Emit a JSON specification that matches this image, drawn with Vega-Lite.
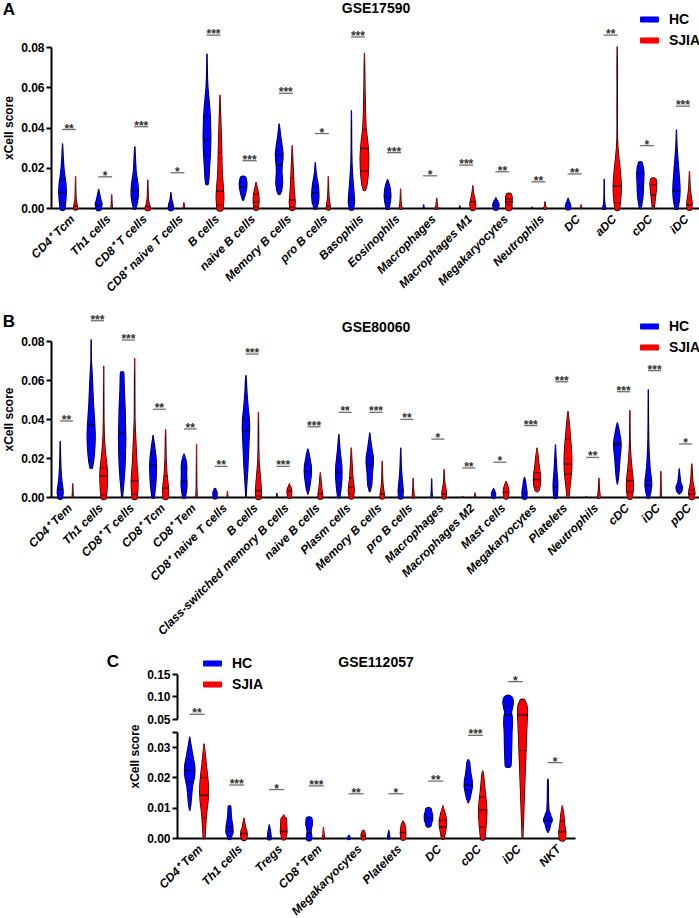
{
"$schema":"https://vega.github.io/schema/vega-lite/v6.json",
"padding":{"left":2,"top":1,"right":2,"bottom":2},
"config":{
"font":"Liberation Sans",
"view":{"stroke":null},
"axis":{"labelFont":"Liberation Sans","labelFontWeight":"bold","labelFontSize":12,"labelColor":"black","titleFont":"Liberation Sans","titleFontWeight":"bold","titleFontSize":12,"titleColor":"black","domainColor":"black","domainWidth":2,"tickColor":"black","tickWidth":2,"tickSize":5,"grid":false,"labelPadding":2,"titlePadding":5},
"axisX":{"ticks":false,"labelAngle":-45,"labelFontStyle":"italic","labelPadding":5},
"title":{"font":"Liberation Sans","fontSize":14,"fontWeight":"bold","color":"black"},
"legend":{"orient":"none","symbolType":"M-1,-0.28H1V0.28H-1Z","symbolSize":324,"symbolStrokeColor":"black","symbolStrokeWidth":1,"symbolOpacity":1,"labelFont":"Liberation Sans","labelFontSize":14,"labelFontWeight":"bold","labelColor":"black","rowPadding":4,"labelOffset":10,"padding":0}
},
"datasets":{
"A":[
{"c":"CD4⁺ Tcm","g":"HC","y":[0,0.003,0.008,0.012,0.016,0.02,0.025,0.03,0.0318],"d":[0.55,0.7,0.85,0.75,0.5,0.3,0.15,0.05,0],"m":0.0076,"md":0.85,"q":[0.0026,0.0144],"qd":[0.68,0.6]},
{"c":"CD4⁺ Tcm","g":"SJIA","y":[0,0.002,0.004,0.008,0.0155],"d":[0.45,0.3,0.12,0.05,0],"m":0.001,"md":0.38},
{"c":"Th1 cells","g":"HC","y":[0,0.002,0.004,0.006,0.008,0.0093],"d":[0.6,0.75,0.5,0.3,0.12,0],"m":0.0015,"md":0.72},
{"c":"Th1 cells","g":"SJIA","y":[0,0.003,0.0065],"d":[0.15,0.05,0]},
{"c":"CD8⁺ T cells","g":"HC","y":[0,0.003,0.006,0.009,0.012,0.015,0.018,0.022,0.027,0.0304],"d":[0.3,0.6,0.8,0.8,0.7,0.5,0.3,0.2,0.1,0],"m":0.0088,"md":0.8,"q":[0.0045,0.0135],"qd":[0.7,0.6]},
{"c":"CD8⁺ T cells","g":"SJIA","y":[0,0.002,0.005,0.01,0.0138],"d":[0.6,0.3,0.1,0.04,0],"m":0.0008,"md":0.5},
{"c":"CD8⁺ naive T cells","g":"HC","y":[0,0.002,0.004,0.006,0.0076],"d":[0.6,0.45,0.2,0.08,0],"m":0.0008,"md":0.55},
{"c":"CD8⁺ naive T cells","g":"SJIA","y":[0,0.0025],"d":[0.15,0]},
{"c":"B cells","g":"HC","y":[0.0122,0.015,0.02,0.025,0.03,0.035,0.04,0.045,0.05,0.055,0.06,0.065,0.07,0.0764],"d":[0.3,0.45,0.55,0.7,0.8,0.85,0.8,0.75,0.6,0.4,0.2,0.1,0.06,0],"m":0.034,"md":0.85,"q":[0.0258,0.0457],"qd":[0.72,0.72]},
{"c":"B cells","g":"SJIA","y":[0,0.005,0.01,0.015,0.02,0.025,0.03,0.035,0.04,0.045,0.05,0.056],"d":[0.7,0.85,0.75,0.55,0.45,0.4,0.35,0.3,0.22,0.15,0.08,0],"m":0.0084,"md":0.78,"q":[0.0015,0.0275],"qd":[0.72,0.38]},
{"c":"naive B cells","g":"HC","y":[0.004,0.006,0.008,0.01,0.0125,0.0142,0.0148],"d":[0.1,0.4,0.6,0.8,0.85,0.7,0],"m":0.0103,"md":0.8},
{"c":"naive B cells","g":"SJIA","y":[0,0.002,0.004,0.007,0.009,0.011,0.0127],"d":[0.5,0.6,0.65,0.55,0.35,0.15,0],"m":0.003,"md":0.62,"q":[0.0005,0.007],"qd":[0.52,0.55]},
{"c":"Memory B cells","g":"HC","y":[0.0073,0.009,0.012,0.015,0.018,0.021,0.024,0.027,0.03,0.033,0.036,0.039,0.0417],"d":[0.3,0.55,0.75,0.7,0.6,0.65,0.8,0.85,0.7,0.5,0.3,0.15,0],"m":0.0213,"md":0.65,"q":[0.0109,0.0263],"qd":[0.7,0.85]},
{"c":"Memory B cells","g":"SJIA","y":[0,0.003,0.006,0.01,0.015,0.02,0.025,0.0308],"d":[0.55,0.65,0.55,0.4,0.3,0.2,0.1,0],"m":0.004,"md":0.6,"q":[0.0005,0.0149],"qd":[0.56,0.3]},
{"c":"pro B cells","g":"HC","y":[0,0.003,0.006,0.009,0.012,0.015,0.018,0.0225],"d":[0.3,0.7,0.8,0.75,0.6,0.35,0.15,0],"m":0.0074,"md":0.78,"q":[0.003,0.0104],"qd":[0.7,0.68]},
{"c":"pro B cells","g":"SJIA","y":[0,0.002,0.005,0.01,0.0155],"d":[0.45,0.35,0.15,0.05,0],"m":0.0008,"md":0.42},
{"c":"Basophils","g":"HC","y":[0,0.003,0.007,0.012,0.017,0.022,0.03,0.04,0.0483],"d":[0.5,0.7,0.6,0.4,0.25,0.12,0.05,0.03,0],"m":0.0043,"md":0.68},
{"c":"Basophils","g":"SJIA","y":[0.0093,0.012,0.016,0.02,0.025,0.03,0.035,0.04,0.045,0.05,0.055,0.06,0.07,0.0768],"d":[0.3,0.6,0.8,0.9,0.95,0.85,0.6,0.35,0.25,0.2,0.15,0.1,0.05,0],"m":0.0296,"md":0.86,"q":[0.0184,0.039],"qd":[0.86,0.35]},
{"c":"Eosinophils","g":"HC","y":[0,0.003,0.006,0.009,0.011,0.013,0.0142],"d":[0.35,0.6,0.75,0.65,0.45,0.2,0],"m":0.0056,"md":0.74,"q":[0.0025,0.0085],"qd":[0.57,0.67]},
{"c":"Eosinophils","g":"SJIA","y":[0,0.002,0.005,0.0094],"d":[0.3,0.15,0.05,0]},
{"c":"Macrophages","g":"HC","y":[0,0.0015],"d":[0.1,0]},
{"c":"Macrophages","g":"SJIA","y":[0,0.001,0.0048],"d":[0.3,0.15,0]},
{"c":"Macrophages M1","g":"HC","y":[0,0.001],"d":[0.1,0]},
{"c":"Macrophages M1","g":"SJIA","y":[0,0.002,0.004,0.006,0.008,0.011],"d":[0.55,0.65,0.5,0.3,0.12,0],"m":0.003,"md":0.58},
{"c":"Megakaryocytes","g":"HC","y":[0,0.0015,0.003,0.0051],"d":[0.5,0.7,0.45,0],"m":0.0012,"md":0.68},
{"c":"Megakaryocytes","g":"SJIA","y":[0,0.001,0.002,0.003,0.004,0.005,0.006,0.0064],"d":[0.6,0.7,0.6,0.75,0.65,0.75,0.6,0],"m":0.003,"md":0.75,"q":[0.0015,0.0045],"qd":[0.65,0.7]},
{"c":"Neutrophils","g":"HC","y":[0,0.0004],"d":[0.08,0]},
{"c":"Neutrophils","g":"SJIA","y":[0,0.001,0.003],"d":[0.3,0.1,0]},
{"c":"DC","g":"HC","y":[0,0.001,0.002,0.0035,0.0048],"d":[0.45,0.6,0.45,0.2,0]},
{"c":"DC","g":"SJIA","y":[0,0.0015],"d":[0.15,0]},
{"c":"aDC","g":"HC","y":[0,0.002,0.005,0.0142],"d":[0.35,0.15,0.05,0]},
{"c":"aDC","g":"SJIA","y":[0,0.003,0.007,0.011,0.015,0.02,0.025,0.03,0.035,0.04,0.05,0.06,0.068,0.075,0.08],"d":[0.55,0.7,0.85,0.9,0.8,0.6,0.35,0.15,0.05,0.03,0.04,0.02,0.05,0.02,0],"m":0.011,"md":0.9,"q":[0.0026],"qd":[0.68]},
{"c":"cDC","g":"HC","y":[0,0.002,0.005,0.008,0.011,0.014,0.017,0.02,0.022,0.023],"d":[0.2,0.35,0.55,0.65,0.7,0.75,0.8,0.7,0.45,0],"m":0.0109,"md":0.7,"q":[0.004,0.0172],"qd":[0.48,0.8]},
{"c":"cDC","g":"SJIA","y":[0,0.003,0.006,0.009,0.012,0.0135,0.0142],"d":[0.2,0.35,0.5,0.65,0.75,0.65,0],"m":0.0064,"md":0.52,"q":[0.001,0.0114],"qd":[0.25,0.72]},
{"c":"iDC","g":"HC","y":[0,0.003,0.006,0.009,0.012,0.015,0.018,0.021,0.025,0.03,0.035,0.0387],"d":[0.35,0.6,0.75,0.8,0.75,0.65,0.55,0.45,0.3,0.15,0.05,0],"m":0.0084,"md":0.8,"q":[0.0026,0.0189],"qd":[0.58,0.52]},
{"c":"iDC","g":"SJIA","y":[0,0.002,0.004,0.007,0.01,0.014,0.018],"d":[0.5,0.6,0.5,0.3,0.15,0.07,0],"m":0.0015,"md":0.58}
],
"As":[
{"c":"CD4⁺ Tcm","s":"**","sy":0.039},{"c":"Th1 cells","s":"*","sy":0.0155},{"c":"CD8⁺ T cells","s":"***","sy":0.0404},{"c":"CD8⁺ naive T cells","s":"*","sy":0.0175},{"c":"B cells","s":"***","sy":0.0859},{"c":"naive B cells","s":"***","sy":0.0235},{"c":"Memory B cells","s":"***","sy":0.057},{"c":"pro B cells","s":"*","sy":0.037},{"c":"Basophils","s":"***","sy":0.085},{"c":"Eosinophils","s":"***","sy":0.0275},{"c":"Macrophages","s":"*","sy":0.016},{"c":"Macrophages M1","s":"***","sy":0.0213},{"c":"Megakaryocytes","s":"**","sy":0.018},{"c":"Neutrophils","s":"**","sy":0.013},{"c":"DC","s":"**","sy":0.0169},{"c":"aDC","s":"**","sy":0.0859},{"c":"cDC","s":"*","sy":0.031},{"c":"iDC","s":"***","sy":0.0506}
],
"B":[
{"c":"CD4⁺ Tem","g":"HC","y":[0,0.002,0.004,0.007,0.01,0.015,0.02,0.025,0.0284],"d":[0.55,0.7,0.65,0.45,0.3,0.15,0.08,0.04,0],"m":0.004,"md":0.65},
{"c":"CD4⁺ Tem","g":"SJIA","y":[0,0.002,0.0067],"d":[0.15,0.06,0]},
{"c":"Th1 cells","g":"HC","y":[0.0152,0.018,0.022,0.027,0.032,0.037,0.042,0.047,0.052,0.057,0.062,0.066,0.07,0.0805],"d":[0.3,0.55,0.75,0.9,0.95,0.85,0.7,0.55,0.45,0.35,0.25,0.15,0.05,0],"m":0.0369,"md":0.85,"q":[0.0191,0.0499],"qd":[0.62,0.5]},
{"c":"Th1 cells","g":"SJIA","y":[0,0.003,0.007,0.011,0.015,0.019,0.023,0.027,0.032,0.04,0.05,0.067],"d":[0.6,0.75,0.85,0.9,0.8,0.6,0.4,0.25,0.12,0.05,0.03,0],"m":0.0107,"md":0.9,"q":[0.001,0.015],"qd":[0.62,0.8]},
{"c":"CD8⁺ T cells","g":"HC","y":[0,0.005,0.01,0.015,0.02,0.025,0.03,0.035,0.04,0.045,0.05,0.055,0.06,0.0634,0.0636],"d":[0.1,0.3,0.5,0.65,0.75,0.8,0.85,0.8,0.75,0.7,0.6,0.5,0.45,0.4,0],"m":0.0327,"md":0.83,"q":[0.0226,0.0472],"qd":[0.77,0.68]},
{"c":"CD8⁺ T cells","g":"SJIA","y":[0,0.004,0.008,0.012,0.016,0.02,0.025,0.03,0.035,0.04,0.05,0.06,0.071],"d":[0.6,0.75,0.8,0.7,0.55,0.45,0.35,0.25,0.15,0.06,0.04,0.03,0],"m":0.0084,"md":0.8,"q":[0.0015,0.034],"qd":[0.62,0.17]},
{"c":"CD8⁺ Tcm","g":"HC","y":[0,0.003,0.006,0.009,0.012,0.016,0.02,0.023,0.027,0.03,0.0315],"d":[0.3,0.45,0.6,0.7,0.75,0.8,0.7,0.55,0.3,0.1,0],"m":0.0166,"md":0.8,"q":[0.0084,0.022],"qd":[0.68,0.62]},
{"c":"CD8⁺ Tcm","g":"SJIA","y":[0,0.003,0.006,0.009,0.012,0.016,0.02,0.025,0.03,0.0345],"d":[0.6,0.7,0.6,0.45,0.3,0.2,0.12,0.07,0.04,0],"m":0.0045,"md":0.65,"q":[0.0107],"qd":[0.4]},
{"c":"CD8⁺ Tem","g":"HC","y":[0,0.003,0.006,0.009,0.012,0.015,0.018,0.02,0.022],"d":[0.35,0.55,0.7,0.65,0.6,0.65,0.55,0.3,0],"m":0.008,"md":0.68,"q":[0.0025,0.0153],"qd":[0.5,0.65]},
{"c":"CD8⁺ Tem","g":"SJIA","y":[0,0.005,0.027],"d":[0.15,0.05,0]},
{"c":"CD8⁺ naive T cells","g":"HC","y":[0,0.002,0.004,0.0041],"d":[0.45,0.5,0.2,0]},
{"c":"CD8⁺ naive T cells","g":"SJIA","y":[0,0.0027],"d":[0.1,0]},
{"c":"B cells","g":"HC","y":[0,0.005,0.01,0.015,0.02,0.025,0.03,0.035,0.04,0.045,0.05,0.055,0.06,0.0622],"d":[0.05,0.15,0.3,0.45,0.55,0.65,0.75,0.85,0.8,0.55,0.35,0.2,0.1,0],"m":0.0337,"md":0.83,"q":[0.0169,0.0396],"qd":[0.5,0.8]},
{"c":"B cells","g":"SJIA","y":[0,0.003,0.006,0.01,0.014,0.018,0.025,0.035,0.0434],"d":[0.6,0.7,0.6,0.45,0.3,0.15,0.06,0.03,0],"m":0.0033,"md":0.7,"q":[0.0005,0.0128],"qd":[0.62,0.35]},
{"c":"Class-switched memory B cells","g":"HC","y":[0,0.0018],"d":[0.1,0]},
{"c":"Class-switched memory B cells","g":"SJIA","y":[0,0.002,0.004,0.0055,0.0067],"d":[0.35,0.55,0.5,0.2,0],"m":0.003,"md":0.52},
{"c":"naive B cells","g":"HC","y":[0.0015,0.004,0.007,0.01,0.013,0.016,0.019,0.022,0.0246],"d":[0,0.35,0.55,0.75,0.85,0.8,0.55,0.3,0],"m":0.013,"md":0.85,"q":[0.0067,0.017],"qd":[0.53,0.75]},
{"c":"naive B cells","g":"SJIA","y":[0,0.002,0.004,0.007,0.01,0.0123],"d":[0.55,0.5,0.35,0.2,0.1,0],"m":0.0015,"md":0.52},
{"c":"Plasm cells","g":"HC","y":[0,0.003,0.006,0.009,0.012,0.016,0.02,0.024,0.028,0.032],"d":[0.25,0.45,0.6,0.7,0.75,0.7,0.5,0.3,0.15,0],"m":0.0126,"md":0.75,"q":[0.0072,0.019],"qd":[0.64,0.55]},
{"c":"Plasm cells","g":"SJIA","y":[0,0.003,0.006,0.009,0.012,0.016,0.02,0.025],"d":[0.5,0.7,0.6,0.4,0.3,0.2,0.1,0],"m":0.005,"md":0.65,"q":[0.0015,0.0098],"qd":[0.6,0.37]},
{"c":"Memory B cells","g":"HC","y":[0.003,0.006,0.009,0.012,0.015,0.018,0.021,0.024,0.027,0.03,0.0328],"d":[0.1,0.45,0.55,0.6,0.75,0.85,0.8,0.55,0.35,0.15,0],"m":0.0163,"md":0.8,"q":[0.0075,0.0198],"qd":[0.5,0.83]},
{"c":"Memory B cells","g":"SJIA","y":[0,0.002,0.004,0.007,0.01,0.0183],"d":[0.5,0.45,0.3,0.15,0.08,0],"m":0.0015,"md":0.47},
{"c":"pro B cells","g":"HC","y":[0,0.003,0.006,0.009,0.013,0.018,0.025],"d":[0.5,0.6,0.5,0.35,0.2,0.1,0],"m":0.0033,"md":0.6},
{"c":"pro B cells","g":"SJIA","y":[0,0.002,0.005,0.0096],"d":[0.25,0.15,0.05,0]},
{"c":"Macrophages","g":"HC","y":[0,0.002,0.005,0.0092],"d":[0.2,0.1,0.05,0]},
{"c":"Macrophages","g":"SJIA","y":[0,0.002,0.004,0.007,0.01,0.014],"d":[0.45,0.55,0.4,0.15,0.06,0],"m":0.0015,"md":0.53},
{"c":"Macrophages M2","g":"HC","y":[0,0.0003],"d":[0.05,0]},
{"c":"Macrophages M2","g":"SJIA","y":[0,0.002],"d":[0.15,0]},
{"c":"Mast cells","g":"HC","y":[0,0.0015,0.003,0.0044],"d":[0.4,0.5,0.3,0]},
{"c":"Mast cells","g":"SJIA","y":[0,0.002,0.004,0.006,0.008],"d":[0.5,0.65,0.6,0.35,0],"m":0.0025,"md":0.65},
{"c":"Megakaryocytes","g":"HC","y":[0,0.002,0.004,0.006,0.008,0.0101],"d":[0.55,0.6,0.5,0.35,0.25,0],"m":0.0018,"md":0.6},
{"c":"Megakaryocytes","g":"SJIA","y":[0.0026,0.004,0.006,0.009,0.012,0.015,0.018,0.021,0.025],"d":[0,0.5,0.75,0.85,0.75,0.55,0.4,0.25,0],"m":0.009,"md":0.85,"q":[0.005,0.0125],"qd":[0.65,0.72]},
{"c":"Platelets","g":"HC","y":[0,0.003,0.006,0.01,0.014,0.018,0.022,0.0267],"d":[0.4,0.5,0.55,0.45,0.3,0.2,0.1,0],"m":0.005,"md":0.53},
{"c":"Platelets","g":"SJIA","y":[0,0.003,0.006,0.01,0.014,0.018,0.022,0.026,0.03,0.034,0.038,0.041,0.0438],"d":[0.2,0.35,0.5,0.7,0.85,0.9,0.85,0.75,0.6,0.45,0.3,0.15,0],"m":0.0169,"md":0.9,"q":[0.0118,0.0296],"qd":[0.78,0.62]},
{"c":"Neutrophils","g":"HC","y":[0,0.0003],"d":[0.05,0]},
{"c":"Neutrophils","g":"SJIA","y":[0,0.002,0.004,0.0096],"d":[0.3,0.2,0.1,0]},
{"c":"cDC","g":"HC","y":[0.0067,0.009,0.012,0.015,0.018,0.021,0.024,0.027,0.03,0.033,0.036,0.038],"d":[0,0.2,0.35,0.45,0.55,0.65,0.8,0.9,0.75,0.5,0.25,0],"m":0.0267,"md":0.9,"q":[0.0198,0.028],"qd":[0.6,0.85]},
{"c":"cDC","g":"SJIA","y":[0,0.003,0.006,0.009,0.012,0.016,0.02,0.025,0.03,0.035,0.0443],"d":[0.55,0.75,0.8,0.75,0.6,0.4,0.25,0.12,0.05,0.03,0],"m":0.0084,"md":0.77,"q":[0.0026,0.0135],"qd":[0.73,0.55]},
{"c":"iDC","g":"HC","y":[0,0.003,0.006,0.009,0.012,0.015,0.02,0.025,0.03,0.035,0.04,0.048,0.0549],"d":[0.3,0.6,0.8,0.75,0.55,0.4,0.25,0.15,0.08,0.06,0.04,0.03,0],"m":0.0058,"md":0.8,"q":[0.0084],"qd":[0.76]},
{"c":"iDC","g":"SJIA","y":[0,0.013],"d":[0.1,0]},
{"c":"pDC","g":"HC","y":[0.0015,0.003,0.004,0.005,0.006,0.008,0.01,0.012,0.0144],"d":[0,0.5,0.7,0.75,0.55,0.3,0.2,0.1,0],"m":0.0045,"md":0.73},
{"c":"pDC","g":"SJIA","y":[0,0.002,0.004,0.006,0.008,0.011,0.014,0.0169],"d":[0.6,0.75,0.6,0.4,0.25,0.15,0.08,0],"m":0.0014,"md":0.7,"q":[0.0036],"qd":[0.62]}
],
"Bs":[
{"c":"CD4⁺ Tem","s":"**","sy":0.039},{"c":"Th1 cells","s":"***","sy":0.0904},{"c":"CD8⁺ T cells","s":"***","sy":0.0805},{"c":"CD8⁺ Tcm","s":"**","sy":0.045},{"c":"CD8⁺ Tem","s":"**","sy":0.0349},{"c":"CD8⁺ naive T cells","s":"**","sy":0.0157},{"c":"B cells","s":"***","sy":0.0733},{"c":"Class-switched memory B cells","s":"***","sy":0.0157},{"c":"naive B cells","s":"***","sy":0.036},{"c":"Plasm cells","s":"**","sy":0.0434},{"c":"Memory B cells","s":"***","sy":0.0434},{"c":"pro B cells","s":"**","sy":0.0398},{"c":"Macrophages","s":"*","sy":0.0297},{"c":"Macrophages M2","s":"**","sy":0.0149},{"c":"Mast cells","s":"*","sy":0.0178},{"c":"Megakaryocytes","s":"***","sy":0.0366},{"c":"Platelets","s":"***","sy":0.0591},{"c":"Neutrophils","s":"**","sy":0.0203},{"c":"cDC","s":"***","sy":0.054},{"c":"iDC","s":"***","sy":0.0648},{"c":"pDC","s":"*","sy":0.0272}
],
"C":[
{"c":"CD4⁺ Tem","g":"HC","y":[0.0091,0.011,0.014,0.017,0.02,0.022,0.024,0.026,0.029,0.031,0.0333],"d":[0,0.2,0.35,0.5,0.85,0.95,0.9,0.7,0.4,0.2,0],"m":0.0223,"md":0.95,"q":[0.0185,0.0245],"qd":[0.62,0.88]},
{"c":"CD4⁺ Tem","g":"SJIA","y":[0,0.003,0.006,0.009,0.012,0.015,0.018,0.021,0.024,0.027,0.031],"d":[0.15,0.25,0.35,0.5,0.7,0.8,0.75,0.6,0.4,0.25,0],"m":0.0141,"md":0.78,"q":[0.0065,0.0199],"qd":[0.38,0.65]},
{"c":"Th1 cells","g":"HC","y":[0,0.002,0.004,0.006,0.008,0.0102,0.0103],"d":[0.3,0.65,0.6,0.4,0.3,0.25,0],"m":0.0035,"md":0.62,"q":[0.0022],"qd":[0.65]},
{"c":"Th1 cells","g":"SJIA","y":[0,0.001,0.002,0.0035,0.005,0.0065],"d":[0.45,0.6,0.55,0.3,0.15,0],"m":0.0015,"md":0.58},
{"c":"Tregs","g":"HC","y":[0,0.001,0.002,0.003,0.0043],"d":[0.35,0.3,0.25,0.15,0],"m":0.0005,"md":0.33},
{"c":"Tregs","g":"SJIA","y":[0,0.002,0.004,0.006,0.0076],"d":[0.35,0.6,0.55,0.5,0],"m":0.0022,"md":0.6},
{"c":"CD8⁺ Tem","g":"HC","y":[0,0.001,0.002,0.003,0.0045,0.006,0.0062],"d":[0.5,0.45,0.35,0.4,0.6,0.55,0],"m":0.0018,"md":0.37},
{"c":"CD8⁺ Tem","g":"SJIA","y":[0,0.001,0.0034],"d":[0.2,0.1,0]},
{"c":"Megakaryocytes","g":"HC","y":[0,0.0009],"d":[0.3,0]},
{"c":"Megakaryocytes","g":"SJIA","y":[0,0.001,0.002,0.0026],"d":[0.35,0.4,0.25,0],"m":0.0007,"md":0.4},
{"c":"Platelets","g":"HC","y":[0,0.001,0.0025],"d":[0.2,0.15,0]},
{"c":"Platelets","g":"SJIA","y":[0,0.0015,0.003,0.0045,0.0056],"d":[0.4,0.5,0.45,0.3,0],"m":0.0018,"md":0.5},
{"c":"DC","g":"HC","y":[0.0036,0.0045,0.006,0.0075,0.009,0.0095],"d":[0,0.5,0.75,0.75,0.55,0],"m":0.0065,"md":0.75},
{"c":"DC","g":"SJIA","y":[0,0.002,0.004,0.006,0.008,0.0106],"d":[0.25,0.45,0.65,0.65,0.4,0],"m":0.0036,"md":0.63,"q":[0.0008,0.0058],"qd":[0.3,0.66]},
{"c":"cDC","g":"HC","y":[0.0116,0.013,0.015,0.017,0.019,0.021,0.023,0.025,0.0259],"d":[0,0.3,0.55,0.75,0.7,0.5,0.35,0.25,0],"m":0.0175,"md":0.75,"q":[0.0158],"qd":[0.62]},
{"c":"cDC","g":"SJIA","y":[0,0.003,0.006,0.009,0.012,0.015,0.018,0.021,0.0221],"d":[0.4,0.55,0.7,0.75,0.65,0.45,0.3,0.15,0],"m":0.0092,"md":0.75,"q":[0.0036,0.0136],"qd":[0.6,0.55]},
{"c":"iDC","g":"HC","y":[0.0243,0.027,0.03,0.035,0.045,0.055,0.065,0.075,0.085,0.092,0.094,0.0942],"d":[0.55,0.6,0.65,0.7,0.8,0.75,0.6,0.8,0.95,0.9,0.5,0],"m":0.0589,"md":0.7,"q":[0.0789],"qd":[0.85]},
{"c":"iDC","g":"SJIA","y":[0,0.005,0.01,0.015,0.02,0.025,0.03,0.035,0.05,0.06,0.07,0.08,0.088,0.0922],"d":[0.05,0.15,0.25,0.35,0.45,0.55,0.65,0.75,0.85,0.9,0.9,0.8,0.5,0],"m":0.0589,"md":0.9,"q":[0.0289],"qd":[0.65]},
{"c":"NKT","g":"HC","y":[0.0018,0.003,0.0045,0.006,0.0075,0.009,0.012,0.016,0.019,0.0194],"d":[0,0.3,0.5,0.8,0.5,0.2,0.1,0.08,0.05,0],"m":0.0056,"md":0.75,"q":[0.0067],"qd":[0.7]},
{"c":"NKT","g":"SJIA","y":[0,0.002,0.004,0.006,0.008,0.0106],"d":[0.55,0.65,0.45,0.35,0.25,0],"m":0.0021,"md":0.65,"q":[0.0056],"qd":[0.38]}
],
"Cs":[
{"c":"CD4⁺ Tem","s":"**","sy":0.0604},{"c":"Th1 cells","s":"***","sy":0.0175},{"c":"Tregs","s":"*","sy":0.016},{"c":"CD8⁺ Tem","s":"***","sy":0.0172},{"c":"Megakaryocytes","s":"**","sy":0.0146},{"c":"Platelets","s":"*","sy":0.0146},{"c":"DC","s":"**","sy":0.0188},{"c":"cDC","s":"***","sy":0.0339},{"c":"iDC","s":"*","sy":0.133},{"c":"NKT","s":"*","sy":0.0249}
]
},
"vconcat":[
{"title":{"text":"A","anchor":"start","fontSize":17,"offset":-17},
 "resolve":{"scale":{"color":"independent","size":"independent"},"legend":{"color":"independent","size":"independent"}},
 "vconcat":[{
  "width":650,"height":161,
  "title":{"text":"GSE17590","offset":-6},
  "data":{"name":"A"},
  "encoding":{"x":{"field":"c","type":"nominal","title":null,"scale":{"domain":["CD4⁺ Tcm","Th1 cells","CD8⁺ T cells","CD8⁺ naive T cells","B cells","naive B cells","Memory B cells","pro B cells","Basophils","Eosinophils","Macrophages","Macrophages M1","Megakaryocytes","Neutrophils","DC","aDC","cDC","iDC"],"paddingInner":0,"paddingOuter":0}}},
  "resolve":{"scale":{"size":"independent"}},
  "layer":[
   {"transform":[{"flatten":["y","d"]}],"mark":{"type":"trail","color":"black"},
    "encoding":{"xOffset":{"field":"g","type":"nominal","scale":{"domain":["HC","SJIA"],"paddingOuter":0.387,"paddingInner":0}},
     "y":{"field":"y","type":"quantitative","title":"xCell score","scale":{"domain":[0,0.08],"nice":false},"axis":{"values":[0,0.02,0.04,0.06,0.08],"format":".2f"}},
     "size":{"field":"d","type":"quantitative","scale":{"domain":[0,1],"range":[1.3,10.3],"zero":false},"legend":null},
     "detail":[{"field":"c"},{"field":"g"}],"order":{"field":"y","type":"quantitative"}}},
   {"transform":[{"flatten":["y","d"]}],"mark":{"type":"trail","filled":true},
    "encoding":{"xOffset":{"field":"g","type":"nominal","scale":{"domain":["HC","SJIA"],"paddingOuter":0.387,"paddingInner":0}},
     "y":{"field":"y","type":"quantitative","title":"xCell score","scale":{"domain":[0,0.08],"nice":false},"axis":{"values":[0,0.02,0.04,0.06,0.08],"format":".2f"}},
     "size":{"field":"d","type":"quantitative","scale":{"domain":[0,1],"range":[0,9]},"legend":null},
     "color":{"field":"g","type":"nominal","scale":{"domain":["HC","SJIA"],"range":["#0000ff","#ff0000"]},"legend":{"title":null,"legendX":589,"legendY":-37,"symbolType":"M-1,-0.28H1V0.28H-1Z","encode":{"symbols":{"update":{"shape":{"value":"M-1,-0.28H1V0.28H-1Z"},"size":{"value":324},"fill":[{"test":"datum.value === 'HC'","value":"#0000ff"},{"value":"#ff0000"}],"stroke":{"value":"black"},"strokeWidth":{"value":1},"strokeCap":{"value":"butt"}}}}}},
     "detail":{"field":"c"},"order":{"field":"y","type":"quantitative"}}},
   {"transform":[{"filter":"isValid(datum.m)"}],"mark":{"type":"tick","orient":"horizontal","thickness":1.6,"color":"black"},
    "encoding":{"xOffset":{"field":"g","type":"nominal","scale":{"domain":["HC","SJIA"],"paddingOuter":0.387,"paddingInner":0}},
     "y":{"field":"m","type":"quantitative","title":"xCell score","scale":{"domain":[0,0.08],"nice":false},"axis":{"values":[0,0.02,0.04,0.06,0.08],"format":".2f"}},
     "size":{"field":"md","type":"quantitative","scale":{"domain":[0,1],"range":[0,9]},"legend":null}}},
   {"transform":[{"filter":"isValid(datum.q)"},{"flatten":["q","qd"]}],"mark":{"type":"tick","orient":"horizontal","thickness":1,"color":"black"},
    "encoding":{"xOffset":{"field":"g","type":"nominal","scale":{"domain":["HC","SJIA"],"paddingOuter":0.387,"paddingInner":0}},
     "y":{"field":"q","type":"quantitative","title":"xCell score","scale":{"domain":[0,0.08],"nice":false},"axis":{"values":[0,0.02,0.04,0.06,0.08],"format":".2f"}},
     "size":{"field":"qd","type":"quantitative","scale":{"domain":[0,1],"range":[0,9]},"legend":null}}},
   {"data":{"name":"As"},"mark":{"type":"tick","orient":"horizontal","size":14,"thickness":1.3,"color":"#333333"},
    "encoding":{"y":{"field":"sy","type":"quantitative","title":"xCell score","scale":{"domain":[0,0.08],"nice":false},"axis":{"values":[0,0.02,0.04,0.06,0.08],"format":".2f"}}}},
   {"data":{"name":"As"},"mark":{"type":"text","fontSize":12,"fontWeight":"bold","color":"#333333","baseline":"alphabetic","dy":3},
    "encoding":{"y":{"field":"sy","type":"quantitative","title":"xCell score","scale":{"domain":[0,0.08],"nice":false},"axis":{"values":[0,0.02,0.04,0.06,0.08],"format":".2f"}},"text":{"field":"s"}}}
  ]
 }]
},
{"vconcat":[
 {"title":{"text":"B","anchor":"start","fontSize":17,"offset":-17},
  "resolve":{"scale":{"color":"independent","size":"independent"},"legend":{"color":"independent","size":"independent"}},
  "vconcat":[{
   "width":650,"height":156,
   "title":{"text":"GSE80060","offset":-21},
   "data":{"name":"B"},
   "encoding":{"x":{"field":"c","type":"nominal","title":null,"scale":{"domain":["CD4⁺ Tem","Th1 cells","CD8⁺ T cells","CD8⁺ Tcm","CD8⁺ Tem","CD8⁺ naive T cells","B cells","Class-switched memory B cells","naive B cells","Plasm cells","Memory B cells","pro B cells","Macrophages","Macrophages M2","Mast cells","Megakaryocytes","Platelets","Neutrophils","cDC","iDC","pDC"],"paddingInner":0,"paddingOuter":0}}},
   "resolve":{"scale":{"size":"independent"}},
   "layer":[
    {"transform":[{"flatten":["y","d"]}],"mark":{"type":"trail","color":"black"},
     "encoding":{"xOffset":{"field":"g","type":"nominal","scale":{"domain":["HC","SJIA"],"paddingOuter":0.238,"paddingInner":0}},
      "y":{"field":"y","type":"quantitative","title":"xCell score","scale":{"domain":[0,0.08],"nice":false},"axis":{"values":[0,0.02,0.04,0.06,0.08],"format":".2f"}},
      "size":{"field":"d","type":"quantitative","scale":{"domain":[0,1],"range":[1.3,9.8],"zero":false},"legend":null},
      "detail":[{"field":"c"},{"field":"g"}],"order":{"field":"y","type":"quantitative"}}},
    {"transform":[{"flatten":["y","d"]}],"mark":{"type":"trail","filled":true},
     "encoding":{"xOffset":{"field":"g","type":"nominal","scale":{"domain":["HC","SJIA"],"paddingOuter":0.238,"paddingInner":0}},
      "y":{"field":"y","type":"quantitative","title":"xCell score","scale":{"domain":[0,0.08],"nice":false},"axis":{"values":[0,0.02,0.04,0.06,0.08],"format":".2f"}},
      "size":{"field":"d","type":"quantitative","scale":{"domain":[0,1],"range":[0,8.5]},"legend":null},
      "color":{"field":"g","type":"nominal","scale":{"domain":["HC","SJIA"],"range":["#0000ff","#ff0000"]},"legend":{"title":null,"legendX":589,"legendY":-24,"symbolType":"M-1,-0.28H1V0.28H-1Z","encode":{"symbols":{"update":{"shape":{"value":"M-1,-0.28H1V0.28H-1Z"},"size":{"value":324},"fill":[{"test":"datum.value === 'HC'","value":"#0000ff"},{"value":"#ff0000"}],"stroke":{"value":"black"},"strokeWidth":{"value":1},"strokeCap":{"value":"butt"}}}}}},
      "detail":{"field":"c"},"order":{"field":"y","type":"quantitative"}}},
    {"transform":[{"filter":"isValid(datum.m)"}],"mark":{"type":"tick","orient":"horizontal","thickness":1.6,"color":"black"},
     "encoding":{"xOffset":{"field":"g","type":"nominal","scale":{"domain":["HC","SJIA"],"paddingOuter":0.238,"paddingInner":0}},
      "y":{"field":"m","type":"quantitative","title":"xCell score","scale":{"domain":[0,0.08],"nice":false},"axis":{"values":[0,0.02,0.04,0.06,0.08],"format":".2f"}},
      "size":{"field":"md","type":"quantitative","scale":{"domain":[0,1],"range":[0,8.5]},"legend":null}}},
    {"transform":[{"filter":"isValid(datum.q)"},{"flatten":["q","qd"]}],"mark":{"type":"tick","orient":"horizontal","thickness":1,"color":"black"},
     "encoding":{"xOffset":{"field":"g","type":"nominal","scale":{"domain":["HC","SJIA"],"paddingOuter":0.238,"paddingInner":0}},
      "y":{"field":"q","type":"quantitative","title":"xCell score","scale":{"domain":[0,0.08],"nice":false},"axis":{"values":[0,0.02,0.04,0.06,0.08],"format":".2f"}},
      "size":{"field":"qd","type":"quantitative","scale":{"domain":[0,1],"range":[0,8.5]},"legend":null}}},
    {"data":{"name":"Bs"},"mark":{"type":"tick","orient":"horizontal","size":13,"thickness":1.3,"color":"#333333"},
     "encoding":{"y":{"field":"sy","type":"quantitative","title":"xCell score","scale":{"domain":[0,0.08],"nice":false},"axis":{"values":[0,0.02,0.04,0.06,0.08],"format":".2f"}}}},
    {"data":{"name":"Bs"},"mark":{"type":"text","fontSize":12,"fontWeight":"bold","color":"#333333","baseline":"alphabetic","dy":3},
     "encoding":{"y":{"field":"sy","type":"quantitative","title":"xCell score","scale":{"domain":[0,0.08],"nice":false},"axis":{"values":[0,0.02,0.04,0.06,0.08],"format":".2f"}},"text":{"field":"s"}}}
   ]
  }]
 },
 {"title":{"text":"C","anchor":"start","fontSize":17,"offset":-17,"dx":-22},
  "resolve":{"scale":{"color":"independent","size":"independent"},"legend":{"color":"independent","size":"independent"}},
  "vconcat":[{
   "width":398,"height":164,
   "title":{"text":"GSE112057","offset":-16},
   "data":{"name":"C"},
   "encoding":{"x":{"field":"c","type":"nominal","title":null,"scale":{"domain":["CD4⁺ Tem","Th1 cells","Tregs","CD8⁺ Tem","Megakaryocytes","Platelets","DC","cDC","iDC","NKT"],"paddingInner":0,"paddingOuter":0}}},
   "resolve":{"scale":{"size":"independent"}},
   "layer":[
    {"transform":[{"flatten":["y","d"]}],"mark":{"type":"trail","color":"black"},
     "encoding":{"xOffset":{"field":"g","type":"nominal","scale":{"domain":["HC","SJIA"],"paddingOuter":0.382,"paddingInner":0}},
      "y":{"field":"y","type":"quantitative","title":"xCell score","scale":{"domain":[0,0.035,0.05,0.15],"range":[164,58,45,0],"nice":false,"zero":false},"axis":{"values":[0,0.01,0.02,0.03,0.035,0.05,0.1,0.15],"labelExpr":"datum.value == 0.035 ? '' : format(datum.value, '.2f')","domainDash":[106,13,45]}},
      "size":{"field":"d","type":"quantitative","scale":{"domain":[0,1],"range":[1.3,12.3],"zero":false},"legend":null},
      "detail":[{"field":"c"},{"field":"g"}],"order":{"field":"y","type":"quantitative"}}},
    {"transform":[{"flatten":["y","d"]}],"mark":{"type":"trail","filled":true},
     "encoding":{"xOffset":{"field":"g","type":"nominal","scale":{"domain":["HC","SJIA"],"paddingOuter":0.382,"paddingInner":0}},
      "y":{"field":"y","type":"quantitative","title":"xCell score","scale":{"domain":[0,0.035,0.05,0.15],"range":[164,58,45,0],"nice":false,"zero":false},"axis":{"values":[0,0.01,0.02,0.03,0.035,0.05,0.1,0.15],"labelExpr":"datum.value == 0.035 ? '' : format(datum.value, '.2f')","domainDash":[106,13,45]}},
      "size":{"field":"d","type":"quantitative","scale":{"domain":[0,1],"range":[0,11]},"legend":null},
      "color":{"field":"g","type":"nominal","scale":{"domain":["HC","SJIA"],"range":["#0000ff","#ff0000"]},"legend":{"title":null,"legendX":26,"legendY":-20,"symbolType":"M-1,-0.28H1V0.28H-1Z","encode":{"symbols":{"update":{"shape":{"value":"M-1,-0.28H1V0.28H-1Z"},"size":{"value":324},"fill":[{"test":"datum.value === 'HC'","value":"#0000ff"},{"value":"#ff0000"}],"stroke":{"value":"black"},"strokeWidth":{"value":1},"strokeCap":{"value":"butt"}}}}}},
      "detail":{"field":"c"},"order":{"field":"y","type":"quantitative"}}},
    {"transform":[{"filter":"isValid(datum.m)"}],"mark":{"type":"tick","orient":"horizontal","thickness":1.6,"color":"black"},
     "encoding":{"xOffset":{"field":"g","type":"nominal","scale":{"domain":["HC","SJIA"],"paddingOuter":0.382,"paddingInner":0}},
      "y":{"field":"m","type":"quantitative","title":"xCell score","scale":{"domain":[0,0.035,0.05,0.15],"range":[164,58,45,0],"nice":false,"zero":false},"axis":{"values":[0,0.01,0.02,0.03,0.035,0.05,0.1,0.15],"labelExpr":"datum.value == 0.035 ? '' : format(datum.value, '.2f')","domainDash":[106,13,45]}},
      "size":{"field":"md","type":"quantitative","scale":{"domain":[0,1],"range":[0,11]},"legend":null}}},
    {"transform":[{"filter":"isValid(datum.q)"},{"flatten":["q","qd"]}],"mark":{"type":"tick","orient":"horizontal","thickness":1,"color":"black"},
     "encoding":{"xOffset":{"field":"g","type":"nominal","scale":{"domain":["HC","SJIA"],"paddingOuter":0.382,"paddingInner":0}},
      "y":{"field":"q","type":"quantitative","title":"xCell score","scale":{"domain":[0,0.035,0.05,0.15],"range":[164,58,45,0],"nice":false,"zero":false},"axis":{"values":[0,0.01,0.02,0.03,0.035,0.05,0.1,0.15],"labelExpr":"datum.value == 0.035 ? '' : format(datum.value, '.2f')","domainDash":[106,13,45]}},
      "size":{"field":"qd","type":"quantitative","scale":{"domain":[0,1],"range":[0,11]},"legend":null}}},
    {"data":{"name":"Cs"},"mark":{"type":"tick","orient":"horizontal","size":15,"thickness":1.3,"color":"#333333"},
     "encoding":{"y":{"field":"sy","type":"quantitative","title":"xCell score","scale":{"domain":[0,0.035,0.05,0.15],"range":[164,58,45,0],"nice":false,"zero":false},"axis":{"values":[0,0.01,0.02,0.03,0.035,0.05,0.1,0.15],"labelExpr":"datum.value == 0.035 ? '' : format(datum.value, '.2f')","domainDash":[106,13,45]}}}},
    {"data":{"name":"Cs"},"mark":{"type":"text","fontSize":12,"fontWeight":"bold","color":"#333333","baseline":"alphabetic","dy":3},
     "encoding":{"y":{"field":"sy","type":"quantitative","title":"xCell score","scale":{"domain":[0,0.035,0.05,0.15],"range":[164,58,45,0],"nice":false,"zero":false},"axis":{"values":[0,0.01,0.02,0.03,0.035,0.05,0.1,0.15],"labelExpr":"datum.value == 0.035 ? '' : format(datum.value, '.2f')","domainDash":[106,13,45]}},"text":{"field":"s"}}}
   ]
  }]
 }
],
 "spacing":16,"center":true,
 "resolve":{"scale":{"color":"independent","size":"independent","x":"independent","y":"independent","xOffset":"independent"},"legend":{"color":"independent","size":"independent"}}
}
],
"spacing":18,
"resolve":{"scale":{"color":"independent","size":"independent","x":"independent","y":"independent","xOffset":"independent"},"legend":{"color":"independent","size":"independent"}}
}
